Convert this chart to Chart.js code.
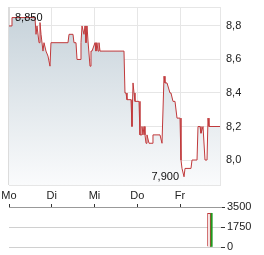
<!DOCTYPE html>
<html>
<head>
<meta charset="utf-8">
<script src="https://cdn.jsdelivr.net/npm/chart.js@4.4.1/dist/chart.umd.min.js"></script>
<style>
html, body { margin: 0; padding: 0; background: #fff; }
#wrap { position: relative; width: 264px; height: 255px; }
#kurs { position: absolute; left: 0; top: 0; }
#umsatz { position: absolute; left: 0; top: 200px; }
</style>
</head>
<body>
<div id="wrap">
  <canvas id="kurs" width="264" height="200"></canvas>
  <canvas id="umsatz" width="264" height="55"></canvas>
</div>
<script>
// Wochentage, Zeit in Tagen ab Montag
const tage = ['Mo', 'Di', 'Mi', 'Do', 'Fr'];
const zeit = [
  0, 0.047, 0.070, 0.608, 0.632, 0.655, 0.678, 0.702, 0.725, 0.749,
  0.795, 0.819, 0.865, 0.912, 0.959, 0.982, 1.380, 1.404, 1.497, 1.520,
  1.567, 1.591, 1.661, 1.684, 1.708, 1.754, 1.778, 1.801, 1.825, 1.848,
  1.895, 1.918, 1.942, 2.012, 2.035, 2.058, 2.082, 2.105, 2.129, 2.690,
  2.713, 2.737, 2.760, 2.854, 2.877, 2.901, 2.924, 2.947, 3.041, 3.064,
  3.088, 3.111, 3.135, 3.158, 3.181, 3.205, 3.228, 3.275, 3.345, 3.368,
  3.532, 3.579, 3.602, 3.626, 3.649, 3.696, 3.766, 3.789, 3.836, 3.883,
  3.930, 4.000, 4.023, 4.047, 4.094, 4.117, 4.257, 4.281, 4.398, 4.421,
  4.468, 4.491, 4.538, 4.561, 4.585, 4.632, 4.655, 4.678, 4.936
];
const kurs = [
  8.80, 8.80, 8.85, 8.85, 8.75, 8.80, 8.80, 8.70, 8.82, 8.75,
  8.65, 8.70, 8.65, 8.62, 8.56, 8.70, 8.70, 8.75, 8.75, 8.70,
  8.70, 8.60, 8.60, 8.70, 8.80, 8.75, 8.80, 8.70, 8.80, 8.71,
  8.56, 8.65, 8.65, 8.70, 8.65, 8.70, 8.65, 8.70, 8.65, 8.65,
  8.40, 8.40, 8.36, 8.36, 8.20, 8.46, 8.40, 8.35, 8.35, 8.15,
  8.15, 8.20, 8.15, 8.20, 8.15, 8.10, 8.15, 8.10, 8.10, 8.15,
  8.15, 8.10, 8.10, 8.50, 8.46, 8.46, 8.40, 8.40, 8.35, 8.35,
  8.25, 8.25, 8.00, 7.95, 7.90, 7.95, 7.95, 8.00, 8.00, 8.20,
  8.20, 8.16, 8.20, 8.20, 8.00, 8.00, 8.25, 8.20, 8.20
];
const kursTicks = [8.0, 8.2, 8.4, 8.6, 8.8];

// Umsatz am Freitag
const umsatzZeit = [4.678, 4.732];
const umsatzRot = [2950];
const umsatzGruen = [2950];
const umsatzTicks = [0, 1750, 3500];

Chart.defaults.font.family = '"Liberation Sans", Arial, sans-serif';
Chart.defaults.font.size = 11;
Chart.defaults.color = '#222';

function komma(v, stellen) {
  return v.toFixed(stellen).replace('.', ',');
}

const rahmen = {
  id: 'rahmen',
  beforeDatasetsDraw(chart) {
    const a = chart.chartArea, c = chart.ctx;
    c.save();
    c.strokeStyle = '#e6e6e6';
    c.lineWidth = 1;
    c.strokeRect(a.left + 0.5, a.top + 0.5, a.right - a.left - 1, a.bottom - a.top);
    c.strokeStyle = '#dcdcdc';
    c.lineWidth = 2;
    c.beginPath();
    c.moveTo(a.left, a.top);
    c.lineTo(a.left, a.bottom);
    c.stroke();
    c.restore();
  }
};

const extreme = {
  id: 'extreme',
  afterDatasetsDraw(chart) {
    const sx = chart.scales.x, sy = chart.scales.y, c = chart.ctx;
    const iMax = kurs.indexOf(Math.max(...kurs));
    const iMin = kurs.indexOf(Math.min(...kurs));
    c.save();
    c.fillStyle = '#111';
    c.font = '11px "Liberation Sans", Arial, sans-serif';
    c.textBaseline = 'middle';
    c.textAlign = 'left';
    c.fillText(komma(kurs[iMax], 3), sx.getPixelForValue(zeit[iMax]) + 3, sy.getPixelForValue(kurs[iMax]));
    c.textAlign = 'right';
    c.fillText(komma(kurs[iMin], 3), sx.getPixelForValue(zeit[iMin]) - 5, sy.getPixelForValue(kurs[iMin]));
    c.restore();
  }
};

new Chart(document.getElementById('kurs'), {
  type: 'line',
  data: {
    datasets: [{
      data: zeit.map((t, i) => ({ x: t, y: kurs[i] })),
      borderColor: '#c0393b',
      borderWidth: 1,
      pointRadius: 0,
      tension: 0,
      fill: 'start',
      backgroundColor(ctx) {
        const a = ctx.chart.chartArea;
        if (!a) return 'rgba(200,211,219,0.8)';
        const g = ctx.chart.ctx.createLinearGradient(0, a.top, 0, a.bottom);
        g.addColorStop(0, '#c5d1d9');
        g.addColorStop(1, '#fafbfc');
        return g;
      }
    }]
  },
  options: {
    responsive: false,
    animation: false,
    layout: { padding: { left: 9, top: 7, right: 0, bottom: 0 } },
    plugins: { legend: { display: false }, tooltip: { enabled: false } },
    scales: {
      x: {
        type: 'linear',
        min: 0,
        max: 4.959,
        grid: { color: '#e6e6e6', drawTicks: false },
        border: { display: false },
        afterBuildTicks(s) { s.ticks = tage.map((_, i) => ({ value: i })); },
        afterFit(s) { s.height = 15; s.paddingLeft = 0; s.paddingRight = 0; },
        ticks: { padding: 4, maxRotation: 0, callback: (v) => tage[v] }
      },
      y: {
        position: 'right',
        min: 7.851,
        max: 8.913,
        grid: { color: '#e6e6e6', drawTicks: false },
        border: { display: false },
        afterBuildTicks(s) { s.ticks = kursTicks.map(v => ({ value: v })); },
        afterFit(s) { s.width = 43; s.paddingTop = 0; s.paddingBottom = 0; },
        ticks: { padding: 5, callback: (v) => komma(v, 1) }
      }
    }
  },
  plugins: [rahmen, extreme]
});

new Chart(document.getElementById('umsatz'), {
  type: 'bar',
  data: {
    datasets: [{
      data: [{ x: umsatzZeit[0], y: umsatzRot[0] }],
      backgroundColor: '#ffffff',
      borderColor: '#c0393b',
      borderWidth: 1,
      barThickness: 3,
      grouped: false
    }, {
      data: [{ x: umsatzZeit[1], y: umsatzGruen[0] }],
      backgroundColor: '#1f9a1f',
      borderColor: '#0e6b0e',
      borderWidth: 0,
      barThickness: 2,
      grouped: false
    }]
  },
  options: {
    responsive: false,
    animation: false,
    layout: { padding: { left: 9, top: 0, right: 0, bottom: 8 } },
    plugins: { legend: { display: false }, tooltip: { enabled: false } },
    scales: {
      x: {
        type: 'linear',
        position: 'top',
        min: 0,
        max: 4.959,
        offset: false,
        grid: { offset: false, drawOnChartArea: false, tickLength: 3, tickColor: '#333' },
        border: { color: '#999' },
        afterBuildTicks(s) { s.ticks = tage.map((_, i) => ({ value: i })); },
        afterFit(s) { s.height = 7; s.paddingLeft = 0; s.paddingRight = 0; },
        ticks: { display: false }
      },
      y: {
        position: 'right',
        min: 0,
        max: 3500,
        grid: { color: '#d0d0d0', tickLength: 4, tickColor: '#333' },
        border: { display: false },
        afterBuildTicks(s) { s.ticks = umsatzTicks.map(v => ({ value: v })); },
        afterFit(s) { s.width = 43; s.paddingTop = 0; s.paddingBottom = 0; },
        ticks: { padding: 2, callback: (v) => String(v) }
      }
    }
  }
});
</script>
</body>
</html>
